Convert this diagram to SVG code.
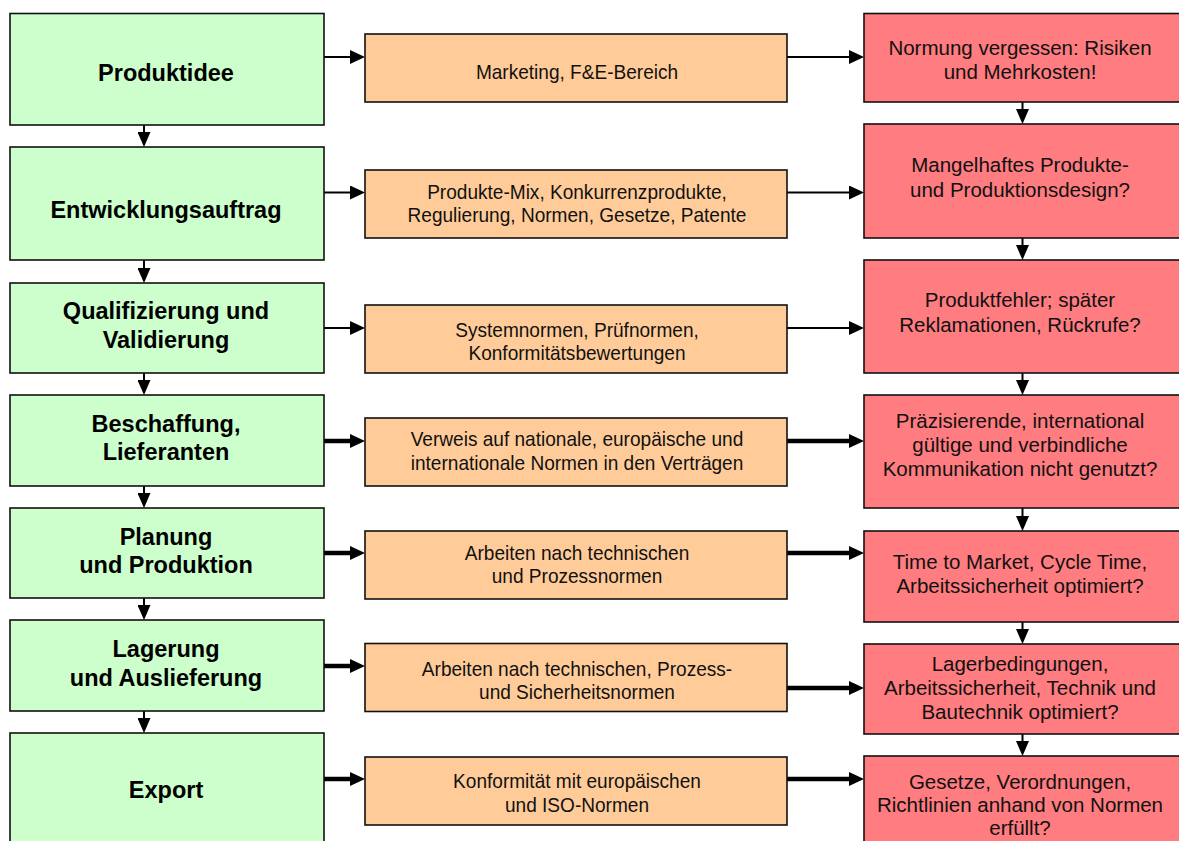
<svg xmlns="http://www.w3.org/2000/svg" width="1179" height="841" viewBox="0 0 1179 841">
<style>
.g{fill:#CCFFCC;stroke:#111;stroke-width:1.6}
.o{fill:#FFCC99;stroke:#111;stroke-width:1.6}
.r{fill:#FF7C80;stroke:#111;stroke-width:1.6}
.tg{font-family:"Liberation Sans",Arial,sans-serif;font-weight:bold;font-size:23.5px;fill:#000;text-anchor:middle}
.to{font-family:"Liberation Sans",Arial,sans-serif;font-size:20.5px;fill:#111;text-anchor:middle}
.tr{font-family:"Liberation Sans",Arial,sans-serif;font-size:20.5px;fill:#111;text-anchor:middle}
.thin{stroke:#000;stroke-width:2;fill:none}
.thick{stroke:#000;stroke-width:4.5;fill:none}
</style>
<defs>
<marker id="ah" markerUnits="userSpaceOnUse" markerWidth="15" markerHeight="14" refX="0" refY="7" orient="auto" viewBox="0 0 15 14">
<path d="M0,0 L15,7 L0,14 z" fill="#000"/>
</marker>
<marker id="av" markerUnits="userSpaceOnUse" markerWidth="15" markerHeight="13" refX="0" refY="6.5" orient="auto" viewBox="0 0 15 13">
<path d="M0,0 L15,6.5 L0,13 z" fill="#000"/>
</marker>
</defs>
<rect width="1179" height="841" fill="#fff"/>

<g id="connectors">
<line class="thin" x1="144" y1="125" x2="144" y2="132" marker-end="url(#av)"/>
<line class="thin" x1="144" y1="260" x2="144" y2="268" marker-end="url(#av)"/>
<line class="thin" x1="144" y1="373" x2="144" y2="380" marker-end="url(#av)"/>
<line class="thin" x1="144" y1="486" x2="144" y2="493" marker-end="url(#av)"/>
<line class="thin" x1="144" y1="598" x2="144" y2="605" marker-end="url(#av)"/>
<line class="thin" x1="144" y1="711" x2="144" y2="718" marker-end="url(#av)"/>
<line class="thin" x1="1022.5" y1="102" x2="1022.5" y2="109" marker-end="url(#av)"/>
<line class="thin" x1="1022.5" y1="238" x2="1022.5" y2="245" marker-end="url(#av)"/>
<line class="thin" x1="1022.5" y1="373" x2="1022.5" y2="380" marker-end="url(#av)"/>
<line class="thin" x1="1022.5" y1="508" x2="1022.5" y2="516" marker-end="url(#av)"/>
<line class="thin" x1="1022.5" y1="622" x2="1022.5" y2="629" marker-end="url(#av)"/>
<line class="thin" x1="1022.5" y1="734" x2="1022.5" y2="741" marker-end="url(#av)"/>
<line class="thin" x1="324" y1="57" x2="350" y2="57" marker-end="url(#ah)"/>
<line class="thin" x1="324" y1="192.5" x2="350" y2="192.5" marker-end="url(#ah)"/>
<line class="thin" x1="324" y1="328" x2="350" y2="328" marker-end="url(#ah)"/>
<line class="thick" x1="324" y1="441" x2="350" y2="441" marker-end="url(#ah)"/>
<line class="thick" x1="324" y1="553" x2="350" y2="553" marker-end="url(#ah)"/>
<line class="thick" x1="324" y1="666" x2="350" y2="666" marker-end="url(#ah)"/>
<line class="thick" x1="324" y1="779" x2="350" y2="779" marker-end="url(#ah)"/>
<line class="thin" x1="787" y1="57" x2="849" y2="57" marker-end="url(#ah)"/>
<line class="thin" x1="787" y1="192.5" x2="849" y2="192.5" marker-end="url(#ah)"/>
<line class="thin" x1="787" y1="328" x2="849" y2="328" marker-end="url(#ah)"/>
<line class="thick" x1="787" y1="441" x2="849" y2="441" marker-end="url(#ah)"/>
<line class="thick" x1="787" y1="553" x2="849" y2="553" marker-end="url(#ah)"/>
<line class="thick" x1="787" y1="688" x2="849" y2="688" marker-end="url(#ah)"/>
<line class="thick" x1="787" y1="779" x2="849" y2="779" marker-end="url(#ah)"/>
</g>

<g id="g1"><rect class="g" x="10" y="13.5" width="314" height="111.5"/><text class="tg" x="166" y="80.5">Produktidee</text></g>
<g id="g2"><rect class="g" x="10" y="147" width="314" height="113"/><text class="tg" x="166" y="217.5">Entwicklungsauftrag</text></g>
<g id="g3"><rect class="g" x="10" y="283" width="314" height="90"/><text class="tg" x="166" y="319">Qualifizierung und</text><text class="tg" x="166" y="347.5">Validierung</text></g>
<g id="g4"><rect class="g" x="10" y="395" width="314" height="91"/><text class="tg" x="166" y="431.5">Beschaffung,</text><text class="tg" x="166" y="460">Lieferanten</text></g>
<g id="g5"><rect class="g" x="10" y="508" width="314" height="90"/><text class="tg" x="166" y="545">Planung</text><text class="tg" x="166" y="572.5">und Produktion</text></g>
<g id="g6"><rect class="g" x="10" y="620" width="314" height="91"/><text class="tg" x="166" y="657">Lagerung</text><text class="tg" x="166" y="685.5">und Auslieferung</text></g>
<g id="g7"><rect class="g" x="10" y="733" width="314" height="120"/><text class="tg" x="166" y="797.5">Export</text></g>

<g id="o1"><rect class="o" x="365" y="34" width="422" height="68"/><g transform="translate(577 0) scale(0.93 1)"><text class="to" x="0" y="79">Marketing, F&amp;E-Bereich</text></g></g>
<g id="o2"><rect class="o" x="365" y="170" width="422" height="68"/><g transform="translate(577 0) scale(0.93 1)"><text class="to" x="0" y="199.5">Produkte-Mix, Konkurrenzprodukte,</text><text class="to" x="0" y="222">Regulierung, Normen, Gesetze, Patente</text></g></g>
<g id="o3"><rect class="o" x="365" y="305" width="422" height="68"/><g transform="translate(577 0) scale(0.93 1)"><text class="to" x="0" y="337.5">Systemnormen, Prüfnormen,</text><text class="to" x="0" y="360.5">Konformitätsbewertungen</text></g></g>
<g id="o4"><rect class="o" x="365" y="418" width="422" height="68"/><g transform="translate(577 0) scale(0.93 1)"><text class="to" x="0" y="446.5">Verweis auf nationale, europäische und</text><text class="to" x="0" y="470.5">internationale Normen in den Verträgen</text></g></g>
<g id="o5"><rect class="o" x="365" y="531" width="422" height="68"/><g transform="translate(577 0) scale(0.93 1)"><text class="to" x="0" y="560">Arbeiten nach technischen</text><text class="to" x="0" y="583.5">und Prozessnormen</text></g></g>
<g id="o6"><rect class="o" x="365" y="643.5" width="422" height="68"/><g transform="translate(577 0) scale(0.93 1)"><text class="to" x="0" y="676">Arbeiten nach technischen, Prozess-</text><text class="to" x="0" y="699">und Sicherheitsnormen</text></g></g>
<g id="o7"><rect class="o" x="365" y="757" width="422" height="68"/><g transform="translate(577 0) scale(0.93 1)"><text class="to" x="0" y="788.5">Konformität mit europäischen</text><text class="to" x="0" y="812">und ISO-Normen</text></g></g>

<g id="r1"><rect class="r" x="864" y="13.5" width="320" height="88.5"/><text class="tr" x="1020" y="54.5">Normung vergessen: Risiken</text><text class="tr" x="1020" y="78.5">und Mehrkosten!</text></g>
<g id="r2"><rect class="r" x="864" y="124" width="320" height="114"/><text class="tr" x="1020" y="171.5">Mangelhaftes Produkte-</text><text class="tr" x="1020" y="196.5">und Produktionsdesign?</text></g>
<g id="r3"><rect class="r" x="864" y="260" width="320" height="113"/><text class="tr" x="1020" y="306.5">Produktfehler; später</text><text class="tr" x="1020" y="331.5">Reklamationen, Rückrufe?</text></g>
<g id="r4"><rect class="r" x="864" y="395" width="320" height="113"/><text class="tr" x="1020" y="428">Präzisierende, international</text><text class="tr" x="1020" y="452">gültige und verbindliche</text><text class="tr" x="1020" y="476">Kommunikation nicht genutzt?</text></g>
<g id="r5"><rect class="r" x="864" y="531" width="320" height="91"/><text class="tr" x="1020" y="568.5">Time to Market, Cycle Time,</text><text class="tr" x="1020" y="592.5">Arbeitssicherheit optimiert?</text></g>
<g id="r6"><rect class="r" x="864" y="644" width="320" height="90"/><text class="tr" x="1020" y="670.5">Lagerbedingungen,</text><text class="tr" x="1020" y="694.5">Arbeitssicherheit, Technik und</text><text class="tr" x="1020" y="718.5">Bautechnik optimiert?</text></g>
<g id="r7"><rect class="r" x="864" y="756" width="320" height="100"/><text class="tr" x="1020" y="788.5">Gesetze, Verordnungen,</text><text class="tr" x="1020" y="812">Richtlinien anhand von Normen</text><text class="tr" x="1020" y="835">erfüllt?</text></g>
</svg>
